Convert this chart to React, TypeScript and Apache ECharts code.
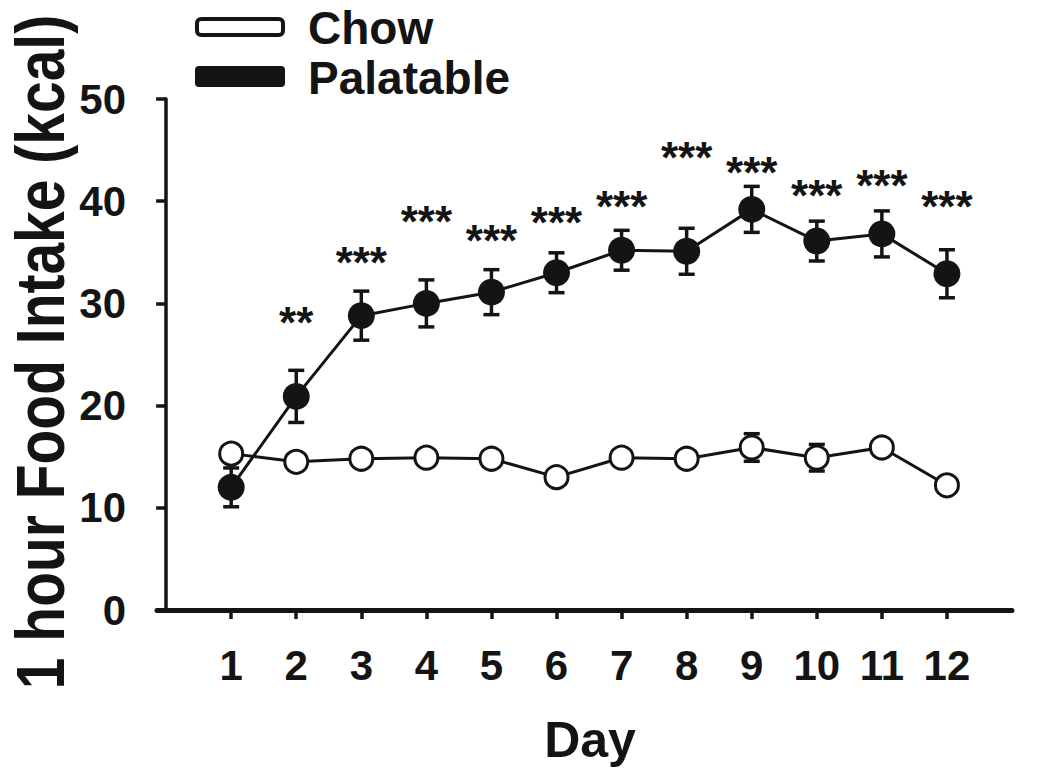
import React, { useEffect, useRef } from "react";
import * as echarts from "echarts";

// ---- data ----
const days = [1, 2, 3, 4, 5, 6, 7, 8, 9, 10, 11, 12];
const chowMean = [15.3, 14.5, 14.8, 14.9, 14.8, 13.0, 14.9, 14.8, 15.9, 14.9, 15.9, 12.2];
const chowSem = [0.8, 0.6, 0.6, 0.6, 0.6, 0.6, 0.6, 0.6, 1.35, 1.3, 0.7, 0.6];
const palMean = [12.0, 20.9, 28.8, 30.0, 31.1, 33.0, 35.2, 35.1, 39.2, 36.1, 36.8, 32.9];
const palSem = [1.9, 2.55, 2.4, 2.3, 2.2, 1.95, 1.95, 2.25, 2.25, 1.95, 2.25, 2.35];
const starText = ["", "**", "***", "***", "***", "***", "***", "***", "***", "***", "***", "***"];
const starY = [0, 29.1, 35.0, 39.0, 37.1, 38.9, 40.5, 45.3, 43.8, 41.5, 42.5, 40.5];
const yMin = 0;
const yMax = 50;
const yStep = 10;
const seriesNames = ["Chow", "Palatable"];
const xTitle = "Day";
const yTitle = "1 hour Food Intake (kcal)";

const FONT = '"Liberation Sans", Arial, Helvetica, sans-serif';
const INK = "#141414";

export default function App() {
  const ref = useRef<HTMLDivElement>(null);

  useEffect(() => {
    if (!ref.current) return;
    const chart = echarts.init(ref.current, undefined, { renderer: "svg" });

    const errRender = (params: any, api: any) => {
      const x = api.value(0);
      const lo = api.coord([x, api.value(1)]);
      const hi = api.coord([x, api.value(2)]);
      const hw = 8;
      const style = { stroke: INK, lineWidth: 3.5 };
      return {
        type: "group",
        children: [
          { type: "line", shape: { x1: lo[0], y1: lo[1], x2: hi[0], y2: hi[1] }, style },
          { type: "line", shape: { x1: lo[0] - hw, y1: lo[1], x2: lo[0] + hw, y2: lo[1] }, style },
          { type: "line", shape: { x1: hi[0] - hw, y1: hi[1], x2: hi[0] + hw, y2: hi[1] }, style },
        ],
      };
    };

    const starIdx = days.map((_, i) => i).filter((i) => starText[i] !== "");

    const option: any = {
      animation: false,
      textStyle: { fontFamily: FONT },
      grid: { left: 157, right: 38, top: 99, bottom: 169, containLabel: false },
      xAxis: {
        type: "value",
        min: -0.14,
        max: 13,
        axisLine: { onZero: false, lineStyle: { color: INK, width: 5, cap: "round" } },
        axisTick: { customValues: days, length: 9, lineStyle: { color: INK, width: 3.5 } },
        axisLabel: {
          customValues: days,
          color: INK,
          fontSize: 42,
          fontWeight: "bold",
          fontFamily: FONT,
          margin: 34,
        },
        splitLine: { show: false },
      },
      yAxis: {
        type: "value",
        min: yMin,
        max: yMax,
        interval: yStep,
        axisLine: { show: true, onZero: true, lineStyle: { color: INK, width: 3.5 } },
        axisTick: { show: true, length: 10, lineStyle: { color: INK, width: 3.5 } },
        axisLabel: {
          color: INK,
          fontSize: 42,
          fontWeight: "bold",
          fontFamily: FONT,
          margin: 31,
        },
        splitLine: { show: false },
      },
      graphic: [
        {
          type: "rect",
          shape: { x: 197, y: 19, width: 86, height: 16, r: 4 },
          style: { fill: "#fff", stroke: INK, lineWidth: 4 },
        },
        {
          type: "rect",
          shape: { x: 195, y: 66, width: 90, height: 21, r: 4 },
          style: { fill: INK },
        },
        {
          type: "text",
          x: 308,
          y: 28,
          style: { text: seriesNames[0], font: `bold 46px ${FONT}`, fill: INK, align: "left", verticalAlign: "middle" },
        },
        {
          type: "text",
          x: 308,
          y: 78,
          style: { text: seriesNames[1], font: `bold 46px ${FONT}`, fill: INK, align: "left", verticalAlign: "middle" },
        },
        {
          type: "text",
          x: 590,
          y: 740,
          style: { text: xTitle, font: `bold 50px ${FONT}`, fill: INK, align: "center", verticalAlign: "middle" },
        },
        {
          type: "text",
          x: 40,
          y: 352,
          rotation: Math.PI / 2,
          scaleY: 1.2,
          style: { text: yTitle, font: `bold 57px ${FONT}`, fill: INK, align: "center", verticalAlign: "middle" },
        },
      ],
      series: [
        {
          name: "Chow SEM",
          type: "custom",
          z: 2,
          renderItem: errRender,
          data: days.map((d, i) => [d, chowMean[i] - chowSem[i], chowMean[i] + chowSem[i]]),
        },
        {
          name: "Palatable SEM",
          type: "custom",
          z: 2,
          renderItem: errRender,
          data: days.map((d, i) => [d, palMean[i] - palSem[i], palMean[i] + palSem[i]]),
        },
        {
          name: seriesNames[1],
          type: "line",
          z: 3,
          data: days.map((d, i) => [d, palMean[i]]),
          symbol: "circle",
          symbolSize: 27,
          lineStyle: { color: INK, width: 3 },
          itemStyle: { color: INK, borderColor: INK, borderWidth: 0 },
        },
        {
          name: seriesNames[0],
          type: "line",
          z: 4,
          data: days.map((d, i) => [d, chowMean[i]]),
          symbol: "circle",
          symbolSize: 23,
          lineStyle: { color: INK, width: 3 },
          itemStyle: { color: "#fff", borderColor: INK, borderWidth: 3 },
        },
        {
          name: "Significance",
          type: "custom",
          z: 5,
          renderItem: (params: any, api: any) => {
            const p = api.coord([api.value(0), api.value(1)]);
            const i = starIdx[params.dataIndex];
            return {
              type: "text",
              x: p[0],
              y: p[1] + 10,
              style: {
                text: starText[i],
                font: `bold 44px ${FONT}`,
                fill: INK,
                align: "center",
                verticalAlign: "middle",
              },
            };
          },
          data: starIdx.map((i) => [days[i], starY[i]]),
        },
      ],
    };

    chart.setOption(option);
    return () => chart.dispose();
  }, []);

  return (
    <div
      ref={ref}
      style={{ position: "fixed", left: 0, top: 0, width: 1050, height: 779, background: "#fff" }}
    />
  );
}
